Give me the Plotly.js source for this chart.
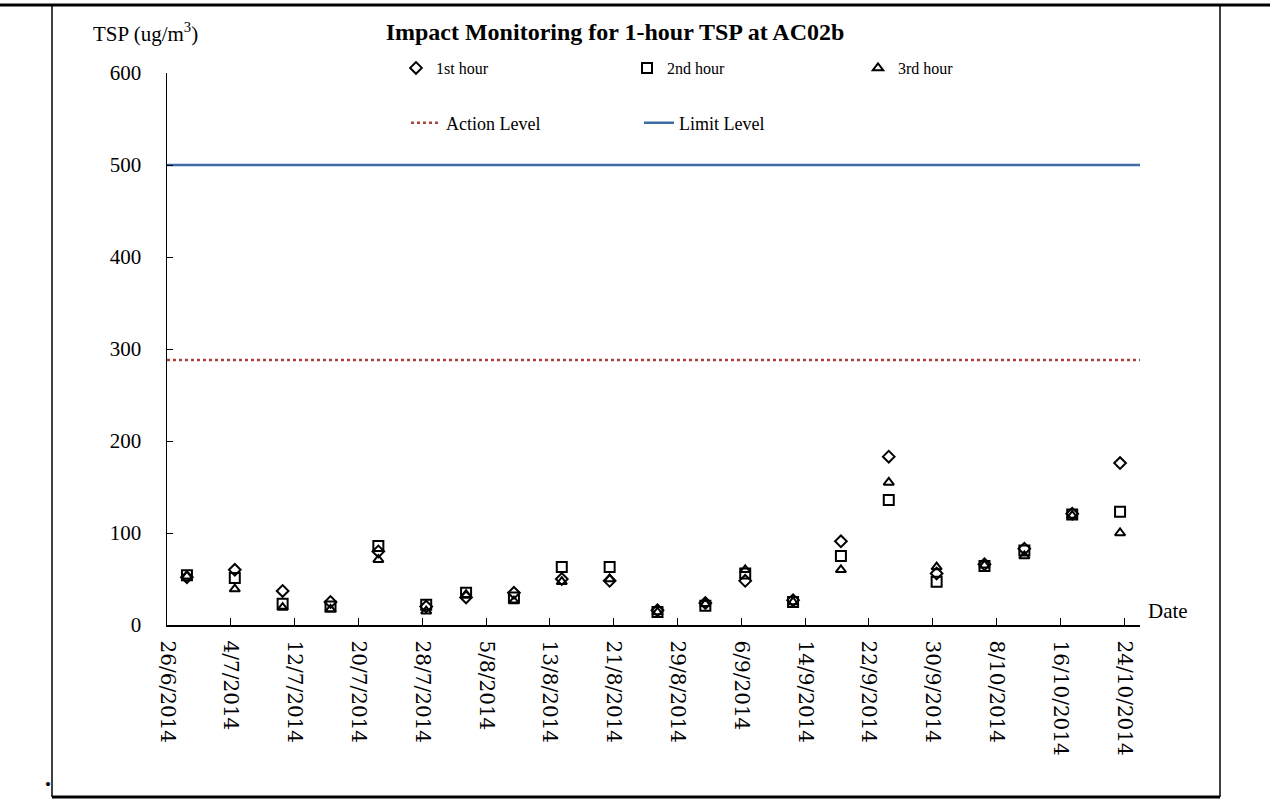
<!DOCTYPE html>
<html>
<head>
<meta charset="utf-8">
<script src="https://cdn.plot.ly/plotly-3.0.1.min.js"></script>
<style>html,body{margin:0;padding:0;background:#fff;}#chart{width:1270px;height:799px;}</style>
</head>
<body>
<div id="chart"></div>
<script>
// ---- data ----
const dates = ['2014-06-28','2014-07-04','2014-07-10','2014-07-16','2014-07-22','2014-07-28','2014-08-02','2014-08-08',
  '2014-08-14','2014-08-20','2014-08-26','2014-09-01','2014-09-06','2014-09-12','2014-09-18','2014-09-24',
  '2014-09-30','2014-10-06','2014-10-11','2014-10-17','2014-10-23'];
const hour1 = [52, 60, 37, 25, 80, 20, 30, 35, 50, 48, 16, 24, 48, 27, 91, 183, 56, 66, 83, 121, 176];
const hour2 = [54, 51, 23, 20, 86, 22, 35, 30, 63, 63, 14, 21, 56, 25, 75, 136, 47, 64, 81, 120, 123];
const hour3 = [53, 39, 19, 17, 71, 15, 33, 26, 47, 50, 14, 23, 60, 25, 60, 155, 63, 65, 75, 119, 100];
const seriesNames = ['1st hour', '2nd hour', '3rd hour'];
const actionLevel = 288;
const limitLevel = 500;
const xStart = '2014-06-26';
const xEnd = '2014-10-26';

// ---- layout helpers (pixel -> paper) ----
const W = 1270, H = 799, ML = 167, MR = 130, MT = 73, MB = 174;
const PW = W - ML - MR, PH = H - MT - MB;
const px2x = p => (p - ML) / PW;
const py2y = p => 1 - (p - MT) / PH;

// Excel date axis draws points in the middle of each day
const xs = dates.map(d => d + ' 12:00');

const serif = 'Liberation Serif, Times New Roman, serif';
const symbols = ['diamond-open', 'square-open', 'triangle-up-open'];
const sizes = [9, 10, 9];
const vals = [hour1, hour2, hour3];

const traces = vals.map((v, i) => ({
  type: 'scatter', mode: 'markers', name: seriesNames[i], x: xs, y: v,
  legend: 'legend',
  marker: {symbol: symbols[i], size: sizes[i], color: '#000', line: {color: '#000', width: 2}}
}));
traces.push({
  type: 'scatter', mode: 'lines', name: 'Action Level', x: [xStart, xEnd], y: [actionLevel, actionLevel],
  legend: 'legend2', line: {color: '#B0413E', width: 2.5, dash: 'dot'}
});
traces.push({
  type: 'scatter', mode: 'lines', name: 'Limit Level', x: [xStart, xEnd], y: [limitLevel, limitLevel],
  legend: 'legend2', line: {color: '#3F6BA6', width: 2.5}
});

const frame = [
  {x0: 0, x1: W, y0: 5, y1: 5, w: 3},
  {x0: 52, x1: 52, y0: 5, y1: 797, w: 1.5},
  {x0: 1220, x1: 1220, y0: 5, y1: 797, w: 1.5},
  {x0: 52, x1: 1220, y0: 797, y1: 797, w: 3}
].map(s => ({type: 'line', xref: 'paper', yref: 'paper', x0: px2x(s.x0), x1: px2x(s.x1),
  y0: py2y(s.y0), y1: py2y(s.y1), line: {color: '#000', width: s.w}}));

const layout = {
  width: W, height: H,
  margin: {l: ML, r: MR, t: MT, b: MB, pad: 0},
  paper_bgcolor: '#fff', plot_bgcolor: '#fff',
  font: {family: serif, color: '#000'},
  title: {text: '<b>Impact Monitoring for 1-hour TSP at AC02b</b>', font: {family: serif, size: 24, color: '#000'},
    x: 615 / W, xanchor: 'center', y: 1 - 32 / H, yanchor: 'middle'},
  xaxis: {
    type: 'date', range: [xStart, xEnd], tick0: xStart, dtick: 8 * 86400000,
    tickformat: '%-d/%-m/%Y', tickangle: 90, ticks: 'inside', ticklen: 7, tickcolor: '#000', tickwidth: 1,
    showline: true, linecolor: '#000', linewidth: 1.5, showgrid: false, zeroline: false,
    ticklabelstandoff: 10,
    tickfont: {family: 'DejaVu Serif, serif', size: 20, color: '#000'}
  },
  yaxis: {
    range: [0, 600], dtick: 100, ticks: 'inside', ticklen: 6, tickcolor: '#000', tickwidth: 1,
    showline: true, linecolor: '#000', linewidth: 1.5, showgrid: false, zeroline: false,
    ticklabelstandoff: 20,
    tickfont: {family: serif, size: 21, color: '#000'}
  },
  showlegend: true,
  legend: {orientation: 'h', x: px2x(396), xanchor: 'left', y: py2y(68), yanchor: 'middle',
    entrywidth: 186, entrywidthmode: 'pixels', font: {family: serif, size: 16, color: '#000'},
    bgcolor: 'rgba(0,0,0,0)', traceorder: 'normal'},
  legend2: {orientation: 'h', x: px2x(406), xanchor: 'left', y: py2y(123), yanchor: 'middle',
    entrywidth: 188, entrywidthmode: 'pixels', font: {family: serif, size: 18, color: '#000'},
    bgcolor: 'rgba(0,0,0,0)', traceorder: 'normal'},
  shapes: frame,
  annotations: [
    {text: 'TSP (ug/m<sup>3</sup>)', xref: 'paper', yref: 'paper', x: px2x(91), y: py2y(32),
      xanchor: 'left', yanchor: 'middle', showarrow: false, font: {family: serif, size: 21, color: '#000'}},
    {text: 'Date', xref: 'paper', yref: 'paper', x: px2x(1146), y: py2y(611),
      xanchor: 'left', yanchor: 'middle', showarrow: false, font: {family: serif, size: 21, color: '#000'}},
    {text: '•', xref: 'paper', yref: 'paper', x: px2x(48), y: py2y(784),
      xanchor: 'center', yanchor: 'middle', showarrow: false, font: {family: serif, size: 17, color: '#000'}}
  ]
};

Plotly.newPlot('chart', traces, layout, {displayModeBar: false, staticPlot: true});
</script>
</body>
</html>
